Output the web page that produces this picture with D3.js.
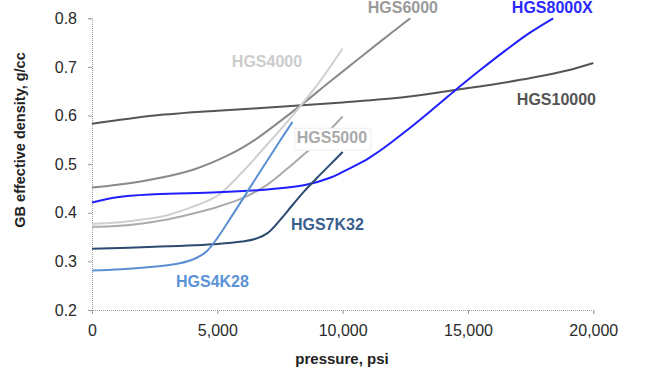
<!DOCTYPE html>
<html lang="en">
<head>
    <meta charset="UTF-8">
    <title>GB effective density vs pressure</title>
    <script src="https://cdn.jsdelivr.net/npm/d3@7/dist/d3.min.js"></script>
    <style>
        body { margin: 0; background: #fff; }
        text { font-family: "Liberation Sans", Arial, sans-serif; }
    </style>
</head>
<body>
<script>
    // data: [pressure psi, density g/cc]
    var hgs10000 = [[0,0.583],[2500,0.600],[5000,0.610],[7500,0.618],[10000,0.627],[12500,0.638],[14400,0.652],[16000,0.664],[17500,0.677],[19000,0.693],[20000,0.708]];
    var hgs6000 = [[0,0.452],[2000,0.465],[4000,0.488],[5500,0.520],[6500,0.550],[7500,0.588],[8400,0.624],[9500,0.670],[10500,0.711],[11500,0.752],[12700,0.800]];
    var hgs4000 = [[0,0.377],[1000,0.380],[2000,0.386],[3000,0.395],[4000,0.412],[5000,0.435],[6000,0.484],[7000,0.541],[8000,0.600],[9000,0.664],[10000,0.738]];
    var hgs5000 = [[0,0.371],[1000,0.373],[2000,0.378],[3000,0.386],[4000,0.398],[5000,0.412],[6000,0.430],[7000,0.458],[8000,0.500],[9000,0.545],[10000,0.598]];
    var hgs8000x = [[0,0.421],[1000,0.432],[2500,0.438],[5000,0.442],[7000,0.448],[8500,0.457],[9500,0.472],[10000,0.484],[10500,0.497],[11000,0.511],[11500,0.528],[12000,0.547],[12500,0.567],[13500,0.609],[14400,0.648],[15500,0.694],[16500,0.734],[17400,0.768],[18400,0.800]];
    var hgs7k32 = [[0,0.326],[2500,0.330],[5000,0.336],[6000,0.341],[6500,0.346],[7000,0.358],[7500,0.385],[8000,0.416],[8500,0.446],[9000,0.473],[9500,0.499],[10000,0.525]];
    var hgs4k28 = [[0,0.281],[2000,0.287],[3500,0.296],[4200,0.308],[4600,0.322],[5000,0.348],[5500,0.387],[6000,0.427],[6500,0.468],[7000,0.508],[7500,0.548],[8000,0.587]];

    var xTicks = [0, 5000, 10000, 15000, 20000];
    var yTicks = [0.2, 0.3, 0.4, 0.5, 0.6, 0.7, 0.8];

    var series = [
        {name: "HGS10000", values: hgs10000, color: "#555555", text: "#555555", lx: 16950, ly: 0.621},
        {name: "HGS6000", values: hgs6000, color: "#8a8a8a", text: "#9a9a9a", lx: 11000, ly: 0.811},
        {name: "HGS4000", values: hgs4000, color: "#cfcfcf", text: "#cccccc", lx: 5580, ly: 0.699},
        {name: "HGS5000", values: hgs5000, color: "#ababab", text: "#aaaaaa", lx: 8170, ly: 0.543, box: true},
        {name: "HGS8000X", values: hgs8000x, color: "#1f1fff", text: "#2a2aff", lx: 16750, ly: 0.811},
        {name: "HGS7K32", values: hgs7k32, color: "#2c4a70", text: "#3a5f8f", lx: 7935, ly: 0.364},
        {name: "HGS4K28", values: hgs4k28, color: "#5b8fd4", text: "#5b93d6", lx: 3350, ly: 0.248}
    ];

    var width = 662, height = 376;
    var margin = {top: 18.3, right: 68.7, bottom: 66, left: 92};

    var svg = d3.select("body").append("svg")
        .attr("width", width)
        .attr("height", height);

    var x = d3.scaleLinear().domain([0, 20000]).range([margin.left, width - margin.right]);
    var y = d3.scaleLinear().domain([0.2, 0.8]).range([height - margin.bottom, margin.top]);

    // axes
    var xAxis = svg.append("g")
        .attr("transform", `translate(0,${y(0.2)})`)
        .call(d3.axisBottom(x).tickValues(xTicks).tickFormat(d3.format(",")).tickSize(4).tickPadding(11));
    var yAxis = svg.append("g")
        .attr("transform", `translate(${x(0)},0)`)
        .call(d3.axisLeft(y).tickValues(yTicks).tickFormat(d3.format(".1f")).tickSize(4).tickPadding(11));

    [xAxis, yAxis].forEach(function(a) {
        a.select(".domain").attr("stroke", "#9a9a9a").attr("stroke-dasharray", "1,1");
        a.selectAll(".tick line").attr("stroke", "#9a9a9a");
        a.selectAll(".tick text").attr("fill", "#2a2a2a").attr("font-size", "16px");
    });

    var line = d3.line()
        .x(d => x(d[0]))
        .y(d => y(d[1]))
        .curve(d3.curveCatmullRom.alpha(0.5));

    svg.append("g").selectAll("path")
        .data(series)
        .enter()
        .append("path")
        .attr("fill", "none")
        .attr("stroke", d => d.color)
        .attr("stroke-width", 2)
        .attr("d", d => line(d.values));

    // series labels
    var labels = svg.append("g").selectAll("g")
        .data(series)
        .enter()
        .append("g");

    labels.filter(d => d.box)
        .append("rect")
        .attr("x", d => x(d.lx) - 2)
        .attr("y", d => y(d.ly) - 15)
        .attr("width", 76)
        .attr("height", 22)
        .attr("fill", "#fff")
        .attr("stroke", "#eeeeee");

    labels.append("text")
        .attr("x", d => x(d.lx))
        .attr("y", d => y(d.ly))
        .attr("fill", d => d.text)
        .attr("font-size", "16px")
        .attr("font-weight", "bold")
        .text(d => d.name);

    // axis titles
    svg.append("text")
        .attr("transform", "translate(25,140) rotate(-90)")
        .attr("text-anchor", "middle")
        .attr("font-size", "14.5px")
        .attr("font-weight", "bold")
        .attr("fill", "#222")
        .text("GB effective density, g/cc");

    svg.append("text")
        .attr("x", 342)
        .attr("y", 364)
        .attr("text-anchor", "middle")
        .attr("font-size", "15px")
        .attr("font-weight", "bold")
        .attr("fill", "#222")
        .text("pressure, psi");
</script>
</body>
</html>
